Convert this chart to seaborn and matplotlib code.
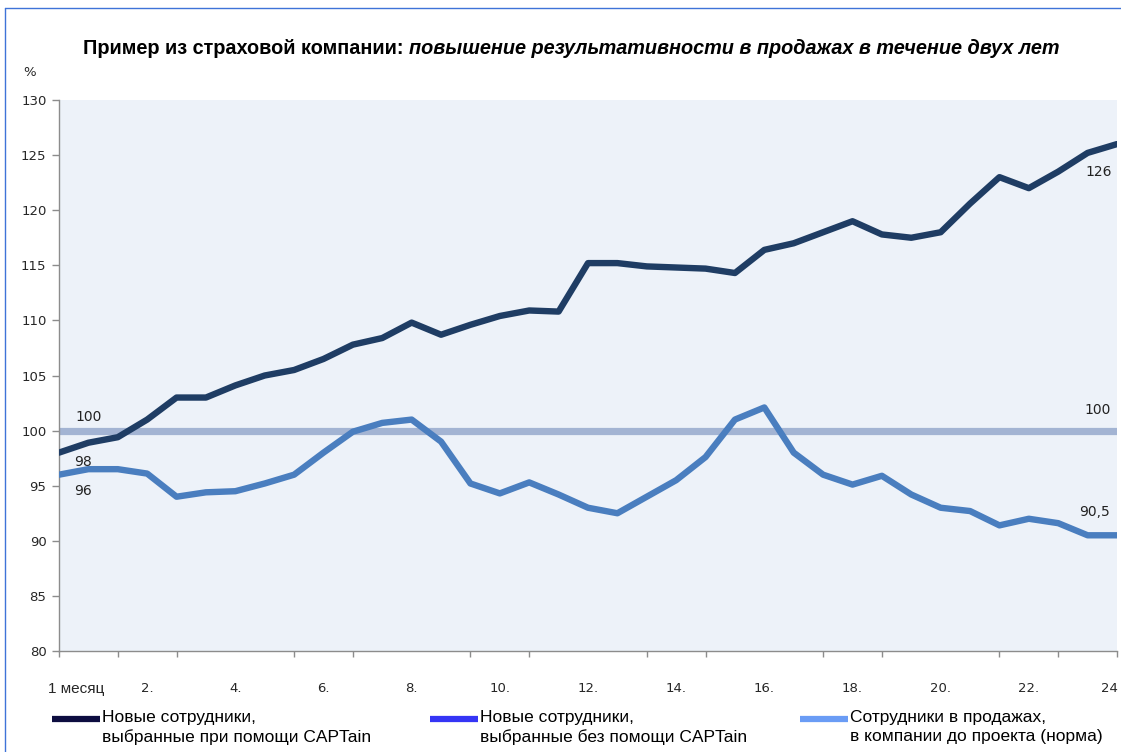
import matplotlib
matplotlib.use("Agg")
import matplotlib.pyplot as plt
from matplotlib import font_manager
from matplotlib.lines import Line2D
import seaborn as sns
import pandas as pd

# ---------------- data ----------------
points = list(range(37))  # half-month steps
with_captain = [98.0, 98.9, 99.4, 101.0, 103.0, 103.0, 104.1, 105.0, 105.5, 106.5,
                107.8, 108.4, 109.8, 108.7, 109.6, 110.4, 110.9, 110.8, 115.2, 115.2,
                114.9, 114.8, 114.7, 114.3, 116.4, 117.0, 118.0, 119.0, 117.8, 117.5,
                118.0, 120.6, 123.0, 122.0, 123.5, 125.2, 126.0]
without_captain = [96.0, 96.5, 96.5, 96.1, 94.0, 94.4, 94.5, 95.2, 96.0, 98.0,
                   99.9, 100.7, 101.0, 99.0, 95.2, 94.3, 95.3, 94.2, 93.0, 92.5,
                   94.0, 95.5, 97.6, 101.0, 102.1, 98.0, 96.0, 95.1, 95.9, 94.2,
                   93.0, 92.7, 91.4, 92.0, 91.6, 90.5, 90.5]
norm_value = 100
month_label_pos = [0.6, 3, 6, 9, 12, 15, 18, 21, 24, 27, 30, 33, 35.75]
month_labels = ["1 месяц", "2.", "4.", "6.", "8.", "10.", "12.", "14.", "16.",
                "18.", "20.", "22.", "24"]
y_ticks = [80, 85, 90, 95, 100, 105, 110, 115, 120, 125, 130]
legend_labels = ["Новые сотрудники,\nвыбранные при помощи CAPTain",
                 "Новые сотрудники,\nвыбранные без помощи CAPTain",
                 "Сотрудники в продажах,\nв компании до проекта (норма)"]
title_part1 = "Пример из страховой компании: "
title_part2 = "повышение результативности в продажах в течение двух лет"

# ---------------- style ----------------
sns.set_theme(style="white")
names = {f.name for f in font_manager.fontManager.ttflist}
narrow = "Liberation Sans Narrow" if "Liberation Sans Narrow" in names else "Liberation Sans"
plt.rcParams["font.family"] = ["DejaVu Sans"]

C_DARK = "#1f3d64"
C_BLUE = "#4a7ebf"
C_NORM = "#a3b4d3"
BG = "#edf2f9"
LEG_COLORS = ["#0d0d40", "#3535f5", "#6a9cf5"]

W, H = 1121, 752
fig = plt.figure(figsize=(W / 100, H / 100), dpi=100)
fig.patch.set_facecolor("white")
ax = fig.add_axes([59 / W, 1 - 651 / H, (1117 - 59) / W, (651 - 100) / H])
ax.set_facecolor(BG)

df = pd.DataFrame({"p": points, "with": with_captain, "without": without_captain})
ax.axhline(norm_value, color=C_NORM, lw=5.2, solid_capstyle="butt", zorder=2)
sns.lineplot(data=df, x="p", y="without", ax=ax, color=C_BLUE, lw=4.6, zorder=3)
sns.lineplot(data=df, x="p", y="with", ax=ax, color=C_DARK, lw=4.6, zorder=4)

ax.set_xlim(points[0], points[-1])
ax.set_ylim(80, 130)
ax.set_xlabel("")
ax.set_ylabel("")

for s in ["top", "right"]:
    ax.spines[s].set_visible(False)
for s in ["left", "bottom"]:
    ax.spines[s].set_color("#8c8c8c")
    ax.spines[s].set_linewidth(1.0)

ax.set_yticks(y_ticks)
ax.set_yticklabels([str(v) for v in y_ticks], fontsize=9.5, color="#262626")
ax.tick_params(axis="y", which="major", direction="out", length=5, width=1,
               color="#8c8c8c", left=True, pad=4)

ax.set_xticks(range(0, 37, 2), minor=True)
ax.set_xticks(month_label_pos)
ax.set_xticklabels(month_labels, fontsize=9.5, color="#262626")
ax.tick_params(axis="x", which="major", length=0, pad=22)
ax.tick_params(axis="x", which="minor", direction="out", length=4, width=1,
               color="#8c8c8c", bottom=True)
ax.get_xticklabels()[0].set_family(narrow)
ax.get_xticklabels()[0].set_fontsize(11)
ax.grid(False)

# data labels
lab_kw = dict(textcoords="offset points", ha="center", va="center",
              fontsize=10, color="#222222", zorder=6)
ax.annotate(str(norm_value), xy=(points[0], norm_value), xytext=(21.6, 10), **lab_kw)
ax.annotate(f"{with_captain[0]:.0f}", xy=(points[0], with_captain[0]), xytext=(17, -6.5), **lab_kw)
ax.annotate(f"{without_captain[0]:.0f}", xy=(points[0], without_captain[0]), xytext=(17, -11.5), **lab_kw)
ax.annotate(f"{with_captain[-1]:.0f}", xy=(points[-1], with_captain[-1]), xytext=(-13, -20), **lab_kw)
ax.annotate(str(norm_value), xy=(points[-1], norm_value), xytext=(-13.7, 15), **lab_kw)
ax.annotate(f"{without_captain[-1]:.1f}".replace(".", ","), xy=(points[-1], without_captain[-1]),
            xytext=(-16, 16.5), **lab_kw)

# "%" unit
fig.text(30 / W, 1 - 72 / H, "%", ha="center", va="center", fontsize=9.5, color="#262626")

# title (bold + bold italic)
t1 = fig.text(83 / W, 1 - 48 / H, title_part1, ha="left", va="center",
              fontsize=14.3, fontweight="bold", family=narrow, color="black")
fig.canvas.draw()
bb = t1.get_window_extent(renderer=fig.canvas.get_renderer())
fig.text(bb.x1 / W, 1 - 48 / H, title_part2, ha="left", va="center",
         fontsize=14.3, fontweight="bold", style="italic", family=narrow, color="black")

# legend (manual)
leg_x = [52, 430, 800]
for x0, col, lab in zip(leg_x, LEG_COLORS, legend_labels):
    fig.add_artist(Line2D([x0 / W, (x0 + 48) / W], [1 - 719 / H, 1 - 719 / H],
                          color=col, lw=4.5, solid_capstyle="butt"))
    fig.text((x0 + 50) / W, 1 - 710 / H, lab, ha="left", va="top", fontsize=12.5,
             family=narrow, color="black", linespacing=1.3)

# outer blue frame
fig.add_artist(Line2D([5 / W, 5 / W], [0, 1 - 8 / H], color="#3f73d8", lw=1.0))
fig.add_artist(Line2D([5 / W, 1], [1 - 8 / H, 1 - 8 / H], color="#3f73d8", lw=1.0))

fig.savefig("out.png", dpi=100)
